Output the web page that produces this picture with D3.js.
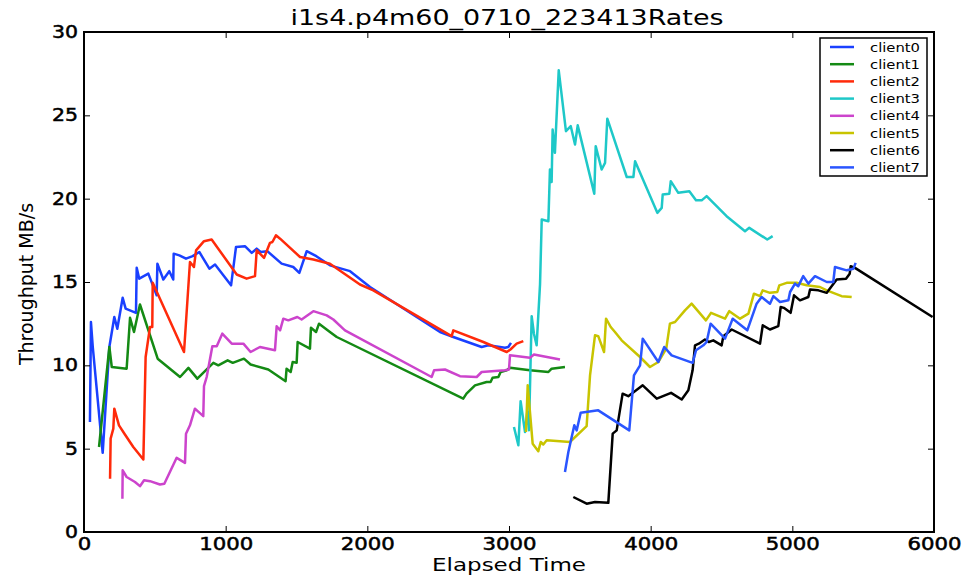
<!DOCTYPE html>
<html>
<head>
<meta charset="utf-8">
<script src="https://cdn.jsdelivr.net/npm/d3@7"></script>
<style>
  body { margin: 0; background: #fff; }
  text { font-family: "DejaVu Sans", sans-serif; fill: #000; }
</style>
</head>
<body>
<div id="chart"></div>
<script>
// series names and colours
var clientNames = ["client0", "client1", "client2", "client3", "client4", "client5", "client6", "client7"];
var clientColors = ["#1a40ff", "#148a14", "#ff2a0a", "#1ec8c8", "#cc44cc", "#c8c400", "#000000", "#2a55ff"];

var xTicks = [0, 1000, 2000, 3000, 4000, 5000, 6000];
var yTicks = [0, 5, 10, 15, 20, 25, 30];

// [elapsed time, MB/s]
var client0 = [[42,6.6],[49,12.6],[62,11.1],[132,4.75],[179,11.1],[214,12.9],[235,12.2],[273,14.05],[294,13.4],[367,13.15],[372,15.85],[390,15.2],[454,15.5],[513,14.2],[518,16.1],[560,15.15],[602,15.65],[630,15.15],[633,16.7],[673,16.6],[720,16.4],[767,16.55],[814,16.8],[885,15.8],[925,16.05],[1038,14.8],[1073,17.1],[1136,17.15],[1184,16.75],[1219,17.0],[1247,16.8],[1294,16.85],[1395,16.1],[1477,15.9],[1520,15.55],[1572,16.85],[1640,16.55],[1736,16.0],[1878,15.65],[2019,14.7],[2513,12.0],[2607,11.7],[2807,11.1],[2854,11.2],[2972,11.05],[2995,11.1],[3014,11.35]];
var client1 = [[106,5.1],[179,11.1],[196,9.9],[301,9.8],[325,12.85],[353,12.0],[395,13.65],[520,10.4],[678,9.3],[737,9.85],[800,9.2],[913,10.15],[948,10.0],[1014,10.3],[1050,10.15],[1129,10.4],[1176,10.05],[1301,9.75],[1423,9.05],[1430,9.8],[1459,9.6],[1473,10.2],[1501,10.15],[1508,11.4],[1595,11.0],[1602,12.25],[1638,12.0],[1659,12.5],[1736,12.0],[1784,11.7],[2677,8.0],[2700,8.3],[2760,8.8],[2842,9.0],[2870,9.0],[2884,9.25],[2925,9.3],[2941,9.6],[2984,9.7],[3007,9.85],[3148,9.7],[3278,9.6],[3301,9.8],[3395,9.9]];
var client2 = [[184,3.2],[188,5.6],[207,6.2],[214,7.4],[247,6.4],[289,5.85],[348,5.1],[419,4.35],[435,10.5],[466,12.3],[482,12.3],[485,14.95],[706,10.8],[748,16.2],[776,15.9],[791,16.9],[847,17.45],[901,17.55],[1078,15.45],[1148,15.2],[1207,15.35],[1219,16.9],[1271,16.45],[1313,17.35],[1330,17.4],[1355,17.8],[1384,17.6],[1525,16.5],[1619,16.35],[1736,16.1],[1948,14.85],[2042,14.5],[2595,11.75],[2607,12.1],[2819,11.4],[2984,10.8],[3010,10.95],[3054,11.3],[3101,11.45]];
var client3 = [[3035,6.3],[3066,5.2],[3082,7.85],[3113,6.0],[3129,7.2],[3141,6.1],[3160,12.95],[3176,11.9],[3195,11.2],[3219,14.85],[3231,18.75],[3278,18.65],[3289,21.75],[3301,21.0],[3308,24.15],[3324,22.75],[3351,27.7],[3402,24.05],[3436,24.35],[3466,23.25],[3485,24.4],[3602,20.3],[3612,23.15],[3654,21.75],[3678,22.15],[3694,24.8],[3831,21.3],[3878,21.3],[3890,22.25],[4047,19.15],[4078,19.45],[4085,20.25],[4132,20.3],[4142,21.05],[4195,20.35],[4273,20.45],[4320,19.9],[4360,19.9],[4395,20.15],[4536,18.95],[4666,18.05],[4696,18.25],[4823,17.55],[4861,17.75]];
var client4 = [[271,2.0],[273,3.7],[301,3.3],[360,3.0],[395,2.75],[424,3.1],[466,3.05],[536,2.85],[567,2.9],[654,4.45],[713,4.15],[720,5.9],[748,6.4],[783,7.4],[842,6.95],[847,8.75],[866,9.3],[906,11.15],[937,11.15],[976,11.9],[1043,11.3],[1125,11.3],[1176,10.8],[1242,11.1],[1348,10.9],[1360,12.35],[1384,12.1],[1407,12.8],[1442,12.7],[1506,12.9],[1536,12.75],[1619,13.25],[1713,13.0],[1760,12.75],[1842,12.1],[2454,9.3],[2471,9.7],[2548,9.75],[2654,9.35],[2772,9.3],[2807,9.6],[2972,9.7],[3000,9.75],[3007,10.6],[3148,10.45],[3176,10.65],[3360,10.35]];
var client5 = [[3120,6.0],[3132,8.8],[3167,5.3],[3207,4.85],[3224,5.4],[3242,5.25],[3266,5.5],[3430,5.4],[3548,6.35],[3572,9.4],[3607,11.8],[3630,11.75],[3671,10.8],[3685,12.8],[3718,12.3],[3748,12.0],[3795,11.5],[3925,10.5],[3995,9.9],[4054,10.2],[4110,11.0],[4136,12.5],[4172,12.6],[4242,13.3],[4289,13.7],[4390,12.7],[4426,13.15],[4525,12.8],[4555,13.25],[4631,12.8],[4690,13.1],[4729,14.3],[4772,14.15],[4791,14.5],[4842,14.35],[4894,14.4],[4908,14.8],[4960,14.95],[5030,14.95],[5101,14.8],[5195,14.7],[5243,14.5],[5348,14.15],[5419,14.1]];
var client6 = [[3454,2.1],[3548,1.7],[3607,1.8],[3701,1.75],[3732,5.9],[3760,6.1],[3802,8.3],[3842,8.15],[3944,8.8],[4043,8.0],[4144,8.35],[4219,7.95],[4266,8.5],[4296,9.7],[4313,11.2],[4340,11.3],[4383,11.55],[4410,11.4],[4442,11.5],[4501,11.2],[4513,11.75],[4572,12.15],[4772,11.3],[4791,12.4],[4842,12.15],[4901,12.35],[4918,13.5],[4940,13.45],[4988,13.15],[5012,14.2],[5054,13.9],[5113,14.1],[5125,14.55],[5184,14.5],[5243,14.35],[5313,15.15],[5379,15.2],[5405,15.5],[5412,15.95],[5442,15.85],[5990,12.9]];
var client7 = [[3395,3.6],[3419,4.8],[3461,6.4],[3478,6.1],[3506,7.15],[3630,7.3],[3849,6.1],[3882,9.4],[3925,10.0],[3944,11.6],[4054,10.2],[4096,11.1],[4148,10.6],[4296,10.15],[4320,10.9],[4372,11.2],[4395,11.4],[4423,12.5],[4525,11.6],[4579,12.8],[4682,12.1],[4748,13.7],[4783,14.1],[4842,13.7],[4866,14.15],[4913,13.8],[4972,13.9],[4984,14.4],[5019,14.9],[5042,14.75],[5077,15.35],[5113,14.9],[5160,15.35],[5243,15.0],[5289,15.0],[5301,15.9],[5384,15.7],[5431,15.8],[5447,16.15]];

var clientData = [client0, client1, client2, client3, client4, client5, client6, client7];

var width = 966, height = 576;
var plotLeft = 84, plotTop = 32, plotRight = 934, plotBottom = 532;

var svg = d3.select("#chart").append("svg")
    .attr("width", width).attr("height", height);

var x = d3.scaleLinear().domain([0, 6000]).range([plotLeft, plotRight]);
var y = d3.scaleLinear().domain([0, 30]).range([plotBottom, plotTop]);

// the picture is stretched sideways, so fit text widths
function stretch(sel, perChar) {
  sel.each(function() {
    var t = d3.select(this);
    t.attr("textLength", t.text().length * perChar).attr("lengthAdjust", "spacingAndGlyphs");
  });
}

svg.append("clipPath").attr("id", "plotclip")
  .append("rect").attr("x", plotLeft).attr("y", plotTop)
  .attr("width", plotRight - plotLeft).attr("height", plotBottom - plotTop);

// lines
var line = d3.line().x(function(d) { return x(d[0]); }).y(function(d) { return y(d[1]); });
var lines = svg.append("g").attr("clip-path", "url(#plotclip)");
clientData.forEach(function(pts, i) {
  lines.append("path").attr("d", line(pts))
    .attr("fill", "none").attr("stroke", clientColors[i])
    .attr("stroke-width", 2.5).attr("stroke-linejoin", "round");
});

// axes, ticks pointing inward
var xAxis = svg.append("g").attr("transform", "translate(0," + plotBottom + ")")
  .call(d3.axisBottom(x).tickValues(xTicks).tickFormat(d3.format("d"))
    .tickSize(-6).tickSizeOuter(0).tickPadding(4));
var yAxis = svg.append("g").attr("transform", "translate(" + plotLeft + ",0)")
  .call(d3.axisLeft(y).tickValues(yTicks).tickFormat(d3.format("d"))
    .tickSize(-6).tickSizeOuter(0).tickPadding(6));
svg.append("g").attr("transform", "translate(0," + plotTop + ")")
  .call(d3.axisTop(x).tickValues(xTicks).tickSize(-6).tickSizeOuter(0).tickFormat(""));
svg.append("g").attr("transform", "translate(" + plotRight + ",0)")
  .call(d3.axisRight(y).tickValues(yTicks).tickSize(-6).tickSizeOuter(0).tickFormat(""));

svg.selectAll(".domain").remove();
svg.selectAll(".tick line").attr("stroke", "#000").attr("stroke-width", 1);
svg.selectAll(".tick text").style("font-size", "17px").style("font-family", "DejaVu Sans")
  .attr("stroke", "#000").attr("stroke-width", 0.5);
stretch(xAxis.selectAll(".tick text").attr("dy", "0.8em"), 13.5);
stretch(yAxis.selectAll(".tick text"), 13);

// frame
svg.append("rect").attr("x", plotLeft).attr("y", plotTop)
  .attr("width", plotRight - plotLeft).attr("height", plotBottom - plotTop)
  .attr("fill", "none").attr("stroke", "#000").attr("stroke-width", 2);

// title and axis labels
svg.append("text").attr("x", (plotLeft + plotRight) / 2 - 2).attr("y", 25)
  .attr("text-anchor", "middle").style("font-size", "21px")
  .text("i1s4.p4m60_0710_223413Rates")
  .call(function(s) { s.attr("textLength", 433).attr("lengthAdjust", "spacingAndGlyphs"); });

svg.append("text").attr("x", (plotLeft + plotRight) / 2).attr("y", 571)
  .attr("text-anchor", "middle").style("font-size", "18px")
  .text("Elapsed Time")
  .call(function(s) { s.attr("textLength", 154).attr("lengthAdjust", "spacingAndGlyphs"); });

svg.append("text").attr("transform", "translate(33,284) rotate(-90)")
  .attr("text-anchor", "middle").style("font-size", "19px")
  .text("Throughput MB/s");

// legend
var legend = svg.append("g");
legend.append("rect").attr("x", 820).attr("y", 38).attr("width", 107).attr("height", 138)
  .attr("fill", "#fff").attr("stroke", "#000").attr("stroke-width", 1.5);
clientNames.forEach(function(name, i) {
  var ly = 47 + i * 17.2;
  legend.append("line").attr("x1", 830).attr("x2", 854).attr("y1", ly).attr("y2", ly)
    .attr("stroke", clientColors[i]).attr("stroke-width", 2.5);
  legend.append("text").attr("x", 870).attr("y", ly).attr("dy", "0.35em")
    .style("font-size", "13px").text(name)
    .call(function(s) { s.attr("textLength", 50).attr("lengthAdjust", "spacingAndGlyphs"); });
});
</script>
</body>
</html>
